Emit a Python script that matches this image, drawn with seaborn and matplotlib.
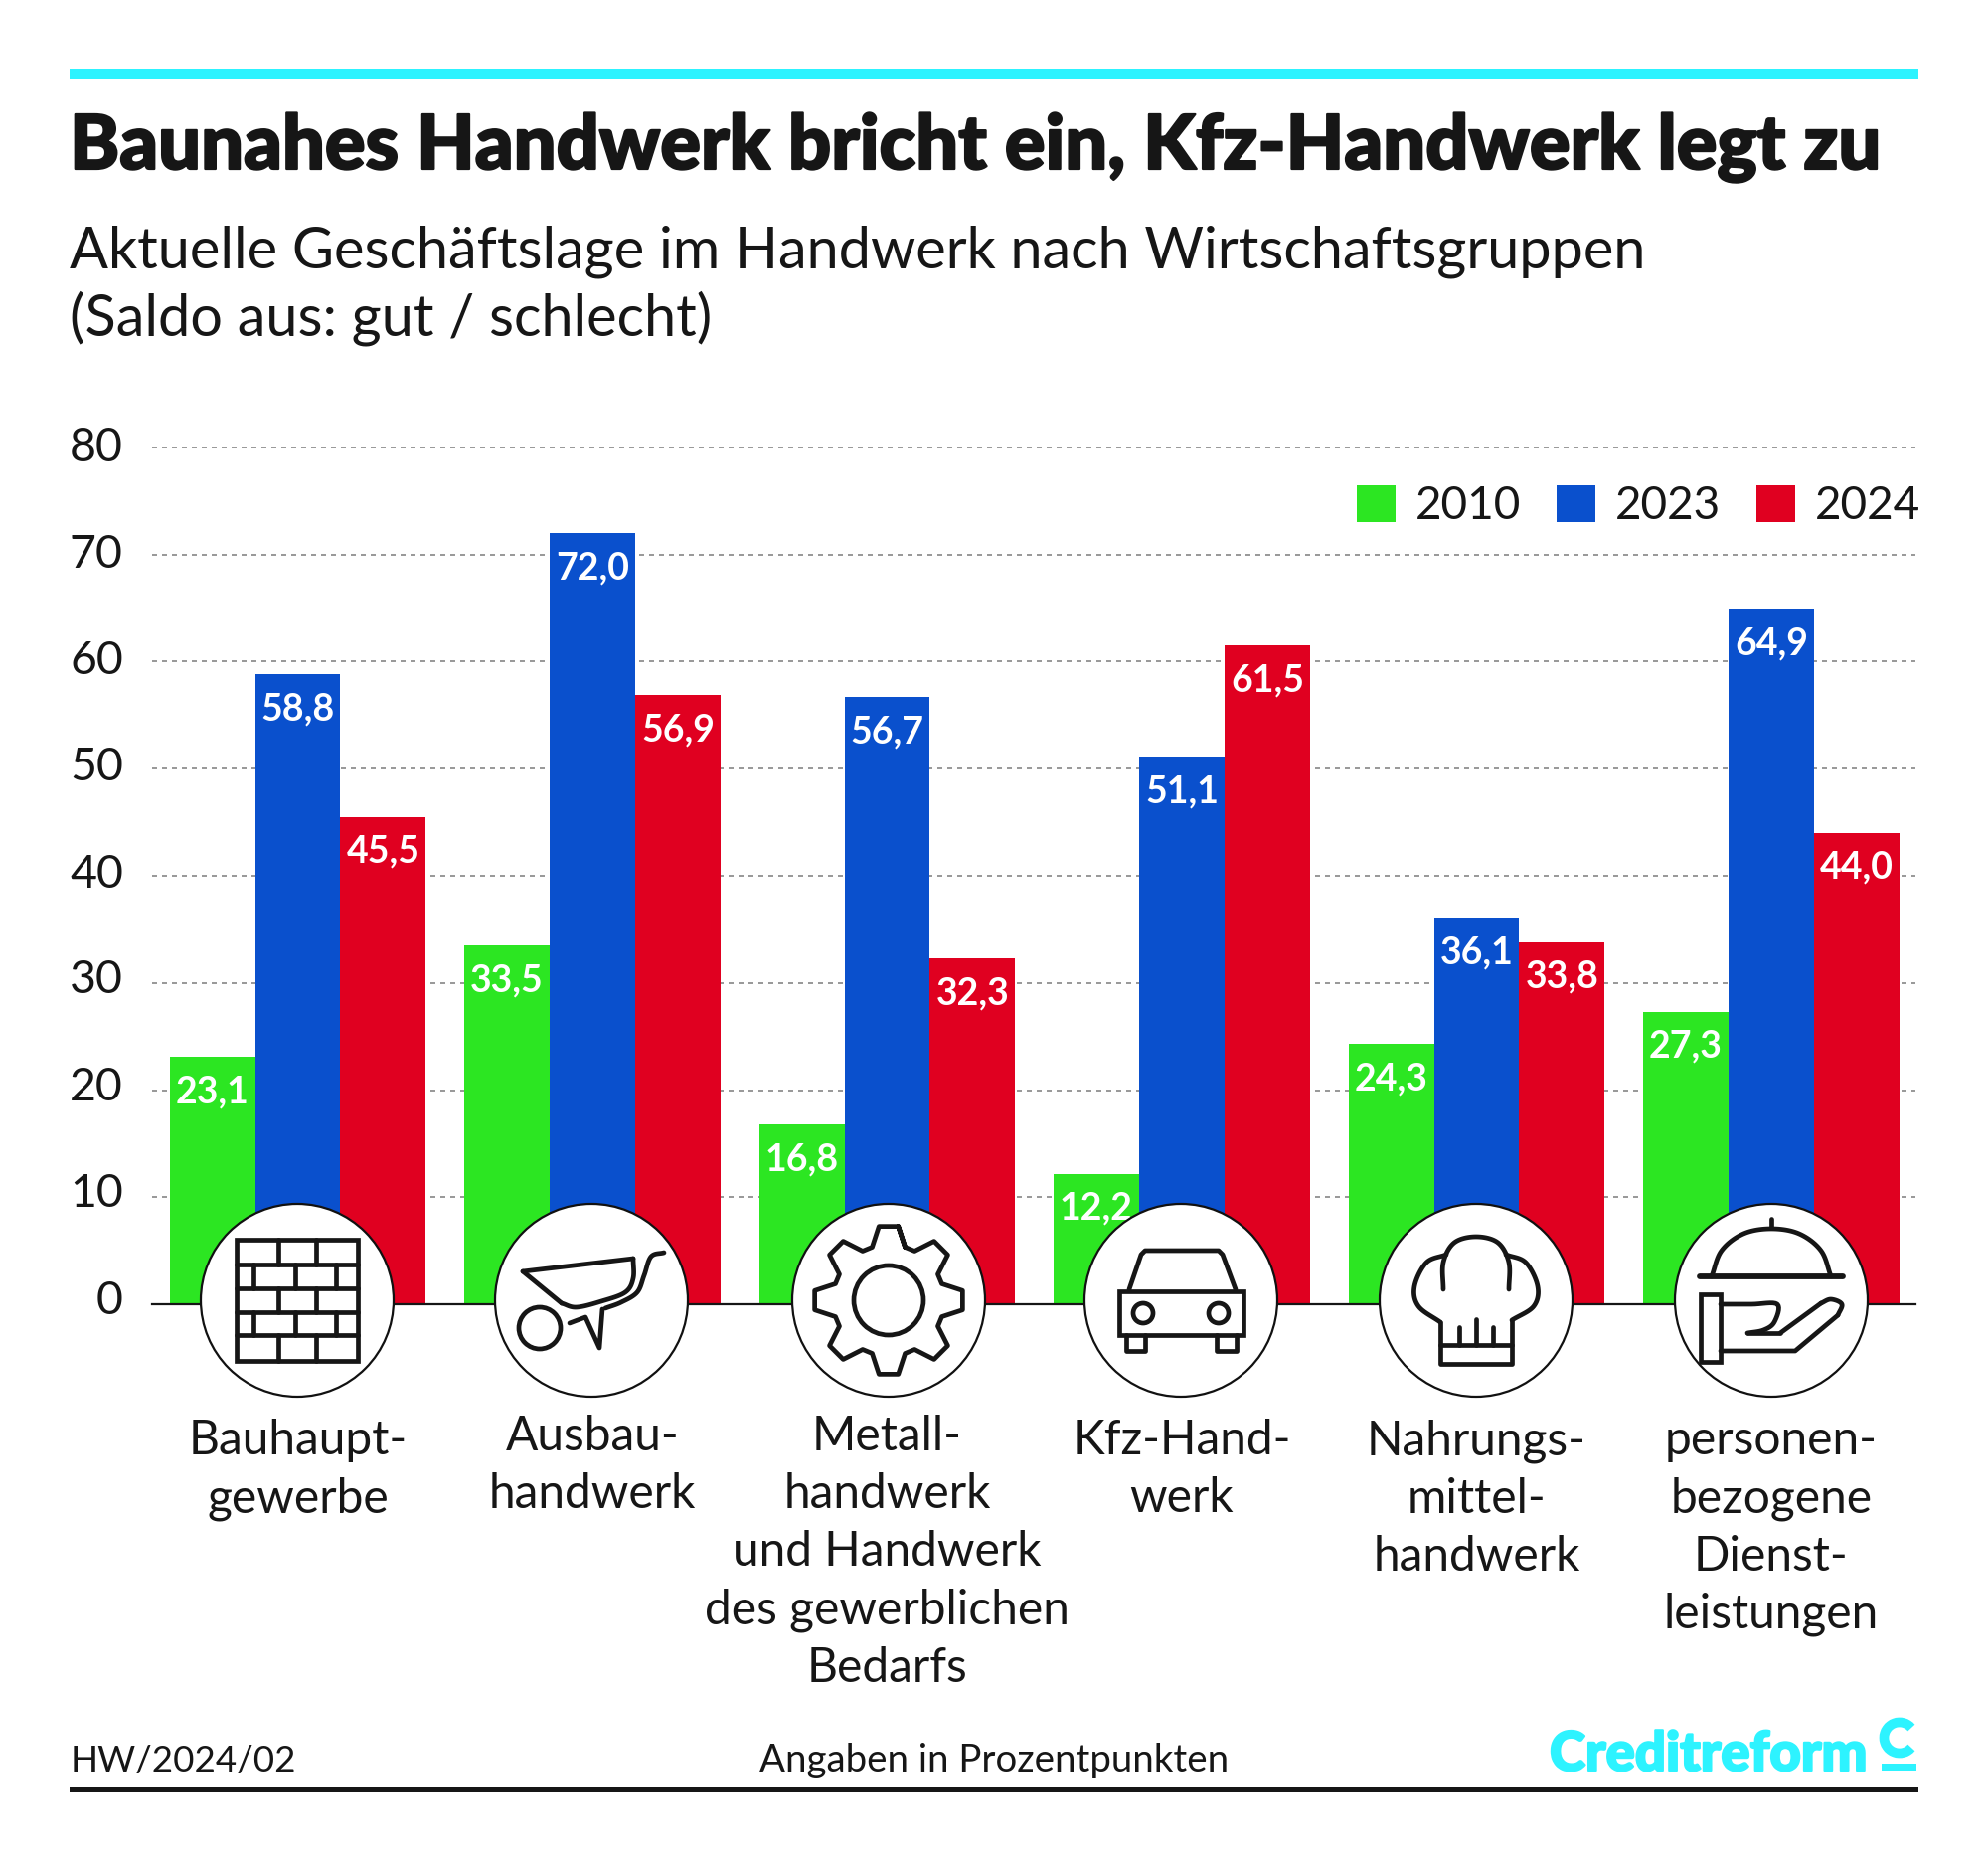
import numpy as np
import pandas as pd
import matplotlib
matplotlib.use("Agg")
import matplotlib.pyplot as plt
import matplotlib.patheffects as pe
from matplotlib.patches import Circle, Rectangle, Arc
from matplotlib.transforms import ScaledTranslation
import seaborn as sns

# ---- data ----
categories = ["Bauhaupt-\ngewerbe", "Ausbau-\nhandwerk",
              "Metall-\nhandwerk\nund Handwerk\ndes gewerblichen\nBedarfs",
              "Kfz-Hand-\nwerk", "Nahrungs-\nmittel-\nhandwerk",
              "personen-\nbezogene\nDienst-\nleistungen"]
years = ["2010", "2023", "2024"]
values_2010 = [23.1, 33.5, 16.8, 12.2, 24.3, 27.3]
values_2023 = [58.8, 72.0, 56.7, 51.1, 36.1, 64.9]
values_2024 = [45.5, 56.9, 32.3, 61.5, 33.8, 44.0]
y_ticks = [0, 10, 20, 30, 40, 50, 60, 70, 80]
title = "Baunahes Handwerk bricht ein, Kfz-Handwerk legt zu"
subtitle_1 = "Aktuelle Geschäftslage im Handwerk nach Wirtschaftsgruppen"
subtitle_2 = "(Saldo aus: gut / schlecht)"

GREEN, BLUE, RED = "#2CE622", "#0A50CD", "#E00020"
CYAN, INK = "#2DF3FF", "#161616"
W, H = 2000, 1867

sns.set_theme(style="white")
BODY = ["Lato", "Noto Sans", "DejaVu Sans"]
plt.rcParams["font.family"] = BODY

df = pd.DataFrame({
    "cat": categories * 3,
    "year": np.repeat(years, 6),
    "val": values_2010 + values_2023 + values_2024,
})

fig = plt.figure(figsize=(W / 100, H / 100), dpi=100, facecolor="white")
L, R, T, B = 153, 1927, 450, 1312
ax = fig.add_axes([L / W, 1 - B / H, (R - L) / W, (B - T) / H])

sns.barplot(data=df, x="cat", y="val", hue="year", hue_order=years,
            palette=[GREEN, BLUE, RED], width=0.87, gap=0, saturation=1,
            edgecolor="none", linewidth=0, ax=ax, legend=True)

step, c0 = 296.5, 299.5
ax.set_xlim((L - c0) / step, (R - c0) / step)
ax.set_ylim(0, 80)
ax.set_xlabel("")
ax.set_ylabel("")
ax.set_yticks(y_ticks)
ax.set_axisbelow(True)
ax.grid(axis="y", color="#9a9a9a", lw=1.44, ls=(0, (2.5, 2.5)))
ax.grid(axis="x", visible=False)
for s in ["left", "right", "top"]:
    ax.spines[s].set_visible(False)
ax.spines["bottom"].set_color(INK)
ax.spines["bottom"].set_linewidth(1.6)
ax.tick_params(axis="y", length=0, pad=21, labelsize=33.5, labelcolor=INK)
ax.tick_params(axis="x", length=0, labelsize=34.5, labelcolor=INK, pad=80)
for lab in ax.get_xticklabels():
    lab.set_linespacing(1.39)
pads = [83, 80, 80, 83, 83, 83]
for t, p in zip(ax.xaxis.get_major_ticks(), pads):
    t.set_pad(p)
# y tick labels sit a little above their gridlines in the reference
for lab, up in zip(ax.get_yticklabels(), [7, 7.5, 6.5, 6.5, 5, 5, 5, 4, 2.5]):
    lab.set_transform(lab.get_transform() + ScaledTranslation(0, up / 100, fig.dpi_scale_trans))

for cont in ax.containers[:3]:
    ax.bar_label(cont, labels=[f"{v:.1f}".replace(".", ",") for v in cont.datavalues],
                 padding=-37.5, color="white", fontsize=27, fontweight="bold")

ax.legend(frameon=False, ncols=3, loc="upper right",
          bbox_to_anchor=(1932 / W, 1 - 488 / H), bbox_transform=fig.transFigure,
          borderaxespad=0, borderpad=0, fontsize=33, labelcolor=INK,
          handlelength=0.85, handleheight=0.85, handletextpad=0.44, columnspacing=0.775)

# ---- overlay in pixel coordinates: frame, texts, icons ----
ov = fig.add_axes([0, 0, 1, 1], facecolor="none")
ov.set_xlim(0, W)
ov.set_ylim(H, 0)
ov.axis("off")

ov.add_patch(Rectangle((70, 69), 1860, 10, color=CYAN, lw=0))
ov.add_patch(Rectangle((70, 1798), 1860, 5, color=INK, lw=0))

ov.text(70, 170, title, fontsize=54.6, fontweight="black", color=INK,
        path_effects=[pe.withStroke(linewidth=1.6, foreground=INK)])
ov.text(70, 270, subtitle_1, fontsize=41.5, color=INK)
ov.text(70, 338, subtitle_2, fontsize=41.5, color=INK)
ov.text(71, 1782, "HW/2024/02", fontsize=26.5, color=INK)
ov.text(1000, 1782, "Angaben in Prozentpunkten", fontsize=27.6, color=INK, ha="center")
ov.text(1559, 1781, "Creditreform", fontsize=39.3, fontweight="black", color=CYAN,
        path_effects=[pe.withStroke(linewidth=1.6, foreground=CYAN)])
ov.add_patch(Arc((1911, 1748), 31, 31, theta1=40, theta2=320, color=CYAN, lw=7, capstyle="butt"))
ov.add_patch(Rectangle((1893, 1774), 35, 7, color=CYAN, lw=0))

ICON_LW = 3.4


def line(cx, cy, pts, closed=False, lw=ICON_LW):
    p = np.asarray(pts, float) + [cx, cy]
    if closed:
        p = np.vstack([p, p[:1], p[1:2]])
    ov.plot(p[:, 0], p[:, 1], color=INK, lw=lw, solid_capstyle="round",
            solid_joinstyle="round", zorder=6)


def smooth(pts, n=12):
    """Catmull-Rom curve through outline points of an icon."""
    p = np.asarray(pts, float)
    q = np.vstack([2 * p[0] - p[1], p, 2 * p[-1] - p[-2]])
    out = []
    for i in range(1, len(q) - 2):
        for t in np.linspace(0, 1, n, endpoint=False):
            out.append(0.5 * ((2 * q[i]) + (-q[i - 1] + q[i + 1]) * t +
                              (2 * q[i - 1] - 5 * q[i] + 4 * q[i + 1] - q[i + 2]) * t ** 2 +
                              (-q[i - 1] + 3 * q[i] - 3 * q[i + 1] + q[i + 2]) * t ** 3))
    out.append(p[-1])
    return np.array(out)


def brick(cx, cy):
    ov.add_patch(Rectangle((cx - 61, cy - 61), 122, 122, fill=False, ec=INK, lw=ICON_LW, zorder=6))
    rows = [-61, -36, -12, 12, 35, 61]
    for y in rows[1:-1]:
        line(cx, cy, [(-61, y), (61, y)])
    for i in range(5):
        xs = [-19, 19] if i % 2 == 0 else [-44, -2, 39]
        for x in xs:
            line(cx, cy, [(x, rows[i]), (x, rows[i + 1])])


def barrow(cx, cy):
    line(cx, cy, [(-69, -29), (42, -42)])
    line(cx, cy, smooth([(42, -42), (42, -22), (34, -8), (10, 1), (-15, 7), (-30, 3)]))
    line(cx, cy, [(-30, 3), (-69, -29)])
    line(cx, cy, smooth([(73, -48), (60, -44), (53, -25), (46, -8), (30, 2), (14, 8)]))
    line(cx, cy, [(11, 9), (8, 48), (-6, 17), (-22, 23)])
    ov.add_patch(Circle((cx - 52, cy + 28), 21, fill=False, ec=INK, lw=ICON_LW, zorder=6))


def gear(cx, cy):
    pts = []
    for k in range(8):
        a = np.pi / 2 + k * np.pi / 4
        for r, d in [(56, -0.30), (75, -0.13), (75, 0.13), (56, 0.30)]:
            pts.append((r * np.cos(a + d), -r * np.sin(a + d)))
    line(cx, cy, pts, closed=True)
    ov.add_patch(Circle((cx, cy), 35, fill=False, ec=INK, lw=ICON_LW, zorder=6))


def car(cx, cy):
    ov.add_patch(Rectangle((cx - 62, cy - 9), 125, 44, fill=False, ec=INK, lw=ICON_LW, zorder=6))
    line(cx, cy, [(-52, -11), (-40, -46), (-36, -50), (38, -50), (42, -46), (55, -11)])
    for x in (-38, 38):
        ov.add_patch(Circle((cx + x, cy + 13), 10, fill=False, ec=INK, lw=ICON_LW, zorder=6))
    line(cx, cy, [(-55, 35), (-55, 51), (-36, 51), (-36, 35)])
    line(cx, cy, [(36, 35), (36, 51), (56, 51), (56, 35)])


def hat(cx, cy):
    line(cx, cy, smooth([(-33, -11), (-33, -38), (-22, -58), (0, -64), (22, -58), (33, -38), (33, -11)]))
    line(cx, cy, smooth([(-30, -46), (-50, -38), (-62, -14), (-58, 6), (-36, 22)]))
    line(cx, cy, smooth([(30, -46), (50, -38), (62, -14), (58, 6), (36, 20)]))
    line(cx, cy, [(-36, 22), (-36, 64), (36, 64), (36, 20)])
    line(cx, cy, [(-36, 45), (36, 45)])
    for x, y in [(-17, 27), (0, 19), (17, 27)]:
        line(cx, cy, [(x, y), (x, 45)])


def cloche(cx, cy):
    line(cx, cy, [(0, -82), (0, -73)])
    line(cx, cy, smooth([(-60, -24), (-50, -50), (-28, -67), (0, -72), (28, -67), (50, -50), (60, -24)]))
    line(cx, cy, [(-72, -24), (72, -24)], lw=4.2)
    ov.add_patch(Rectangle((cx - 71, cy - 6), 20, 68, fill=False, ec=INK, lw=ICON_LW, zorder=6))
    line(cx, cy, smooth([(-51, 4), (-20, 4), (6, 4), (3, 22), (-8, 30), (-24, 33)], n=8))
    line(cx, cy, [(-24, 33), (9, 33)])
    line(cx, cy, [(9, 33), (50, 3)])
    line(cx, cy, smooth([(50, 3), (60, -1), (71, 4), (67, 15)], n=8))
    line(cx, cy, [(67, 15), (24, 51), (-51, 51)])


icon_fns = [brick, barrow, gear, car, hat, cloche]
icon_x = [299, 595, 894, 1188, 1485, 1782]
ICON_Y = 1308
for fn, x in zip(icon_fns, icon_x):
    ov.add_patch(Circle((x, ICON_Y), 97, fc="white", ec="#111111", lw=1.6, zorder=5))
    fn(x, ICON_Y)

fig.savefig("out.png", dpi=100, facecolor="white")
